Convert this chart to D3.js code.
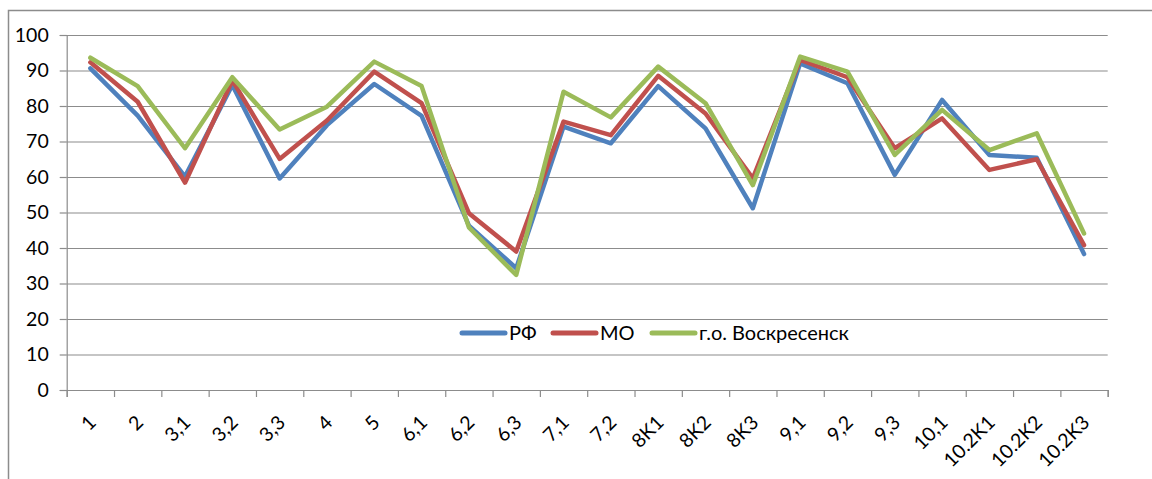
<!DOCTYPE html>
<html>
<head>
<meta charset="utf-8">
<script src="https://cdn.jsdelivr.net/npm/d3@7"></script>
<style>
  html, body { margin: 0; padding: 0; background: #fff; }
  svg { display: block; }
  text { font-family: Lato, "Open Sans", sans-serif; fill: #000; }
</style>
</head>
<body>
<svg id="chart" width="1152" height="479"></svg>
<script>
const categories = ["1","2","3,1","3,2","3,3","4","5","6,1","6,2","6,3","7,1","7,2","8K1","8K2","8K3","9,1","9,2","9,3","10,1","10.2K1","10.2K2","10.2K3"];
const seriesNames = ["РФ", "МО", "г.о. Воскресенск"];
const rfValues   = [90.6, 77.3, 60.1, 85.9, 59.6, 74.6, 86.2, 77.2, 46.3, 34.3, 74.2, 69.5, 85.6, 73.7, 51.2, 92.0, 86.4, 60.6, 81.7, 66.2, 65.4, 38.3];
const moValues   = [92.3, 81.2, 58.4, 87.2, 65.1, 75.9, 89.7, 80.8, 49.8, 39.0, 75.6, 71.8, 88.5, 77.9, 59.6, 93.0, 88.1, 68.1, 76.5, 62.0, 65.0, 40.8];
const vosValues  = [93.6, 85.6, 68.1, 88.1, 73.4, 79.8, 92.5, 85.6, 45.8, 32.4, 84.0, 76.8, 91.1, 80.8, 57.7, 93.9, 89.7, 66.2, 78.9, 67.6, 72.3, 44.1];
const yTicks = [0,10,20,30,40,50,60,70,80,90,100];
const colors = ["#4F81BD", "#C0504D", "#9BBB59"];

(function () {
const svg = d3.select("#chart");
const gridColor = "#8c8c8c";

// outer chart border (left and top edges visible)
svg.append("path")
  .attr("d", d3.line()([[8.5, 479], [8.5, 10.5], [1152, 10.5]]))
  .attr("fill", "none").attr("stroke", gridColor).attr("stroke-width", 1.5);

const pLeft = 66.7, pRight = 1107.7, pTop = 35, pBottom = 390;
const x = d3.scaleBand().domain(categories).range([pLeft, pRight]).paddingInner(0).paddingOuter(0);
const xEdge = d3.scaleLinear().domain([0, categories.length]).range([pLeft, pRight]);
const y = d3.scaleLinear().domain([0, 100]).range([pBottom, pTop]);

// gridlines
svg.append("g")
  .attr("transform", `translate(${pLeft},0)`)
  .call(d3.axisLeft(y).tickValues(yTicks).tickSize(-(pRight - pLeft)).tickFormat(""))
  .call(g => g.select(".domain").remove())
  .call(g => g.selectAll("line").attr("stroke", gridColor).attr("stroke-width", 1.2));

// y axis
svg.append("g")
  .attr("transform", `translate(${pLeft},0)`)
  .call(d3.axisLeft(y).tickValues(yTicks).tickSize(7).tickPadding(11))
  .call(g => g.select(".domain").attr("stroke", gridColor).attr("stroke-width", 1.2))
  .call(g => g.selectAll("line").attr("stroke", gridColor).attr("stroke-width", 1.2))
  .call(g => g.selectAll("text").attr("font-size", 19.5).attr("font-family", "Lato, sans-serif").attr("fill", "#000"));

// x axis ticks at category boundaries
svg.append("g")
  .attr("transform", `translate(0,${pBottom})`)
  .call(d3.axisBottom(xEdge).tickValues(d3.range(0, categories.length + 1)).tickSize(7).tickFormat(""))
  .call(g => g.select(".domain").attr("stroke", gridColor).attr("stroke-width", 1.2))
  .call(g => g.selectAll("line").attr("stroke", gridColor).attr("stroke-width", 1.2));

// x labels
svg.append("g")
  .attr("transform", `translate(0,${pBottom})`)
  .call(d3.axisBottom(x).tickSize(0).tickPadding(0))
  .call(g => g.select(".domain").remove())
  .call(g => g.selectAll("text")
    .attr("font-size", 19.5)
    .attr("font-family", "Lato, sans-serif")
    .attr("fill", "#000")
    .attr("text-anchor", "end")
    .attr("dy", "0.35em")
    .attr("transform", "translate(2,29) rotate(-45)"));

// lines
const allSeries = [rfValues, moValues, vosValues];
const line = d3.line()
  .x((d, i) => x(categories[i]) + x.bandwidth() / 2)
  .y(d => y(d));
allSeries.forEach((vals, k) => {
  svg.append("path")
    .datum(vals)
    .attr("d", line)
    .attr("fill", "none")
    .attr("stroke", colors[k])
    .attr("stroke-width", 4.5)
    .attr("stroke-linejoin", "round")
    .attr("stroke-linecap", "round");
});

// legend
const legendY = 333;
const legendX = [462, 553, 652];
const lg = svg.append("g");
seriesNames.forEach((name, k) => {
  lg.append("line")
    .attr("x1", legendX[k]).attr("x2", legendX[k] + 43)
    .attr("y1", legendY).attr("y2", legendY)
    .attr("stroke", colors[k]).attr("stroke-width", 5).attr("stroke-linecap", "round");
  lg.append("text")
    .attr("x", legendX[k] + 47).attr("y", legendY)
    .attr("dy", "0.35em")
    .attr("font-size", 20)
    .text(name);
});
})();
</script>
</body>
</html>
